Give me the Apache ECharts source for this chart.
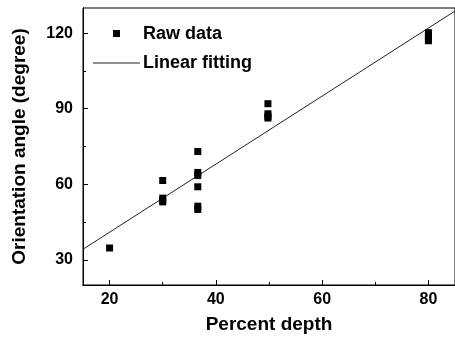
<!DOCTYPE html>
<html><head><meta charset="utf-8">
<script src="https://cdn.jsdelivr.net/npm/echarts@6/dist/echarts.min.js"></script>
<style>html,body{margin:0;padding:0;background:#fff}#c{width:455px;height:339px}</style>
</head><body><div id="c"></div>
<script>
const rawX = [20, 30, 30, 30, 30, 36.6, 36.6, 36.6, 36.6, 36.6, 36.6, 49.8, 49.8, 49.8, 49.8, 80, 80, 80, 80];
const rawY = [34.7, 61.5, 54.5, 53.5, 53, 73, 64.7, 63.5, 59, 51.3, 50, 92, 88, 87, 86.3, 120.2, 119, 118, 117];
const fitX = [15, 85];
const fitY = [34.2, 128.8];
const xLabels = [20, 40, 60, 80];
const xMinor = [30, 50, 70];
const yLabels = [30, 60, 90, 120];
const yMinor = [45, 75, 105];

const font = 'Liberation Sans, Arial, sans-serif';
const chart = echarts.init(document.getElementById('c'), null, {renderer: 'canvas'});
const axisCommon = {
  axisLine: {show: true, onZero: false, lineStyle: {color: '#000', width: 1}},
  splitLine: {show: false}
};
chart.setOption({
  animation: false,
  backgroundColor: '#fff',
  grid: {left: 83, right: -3, top: 8, bottom: 54, show: true, borderColor: '#000', borderWidth: 1, backgroundColor: 'transparent'},
  xAxis: [
    Object.assign({type: 'value', min: 15, max: 85, position: 'bottom',
      axisTick: {inside: true, length: 5, customValues: xLabels, lineStyle: {color: '#000'}},
      axisLabel: {customValues: xLabels, margin: 7, color: '#000', fontWeight: 'bold', fontSize: 16, fontFamily: font},
      name: 'Percent depth', nameLocation: 'middle', nameGap: 30,
      nameTextStyle: {color: '#000', fontWeight: 'bold', fontSize: 19, fontFamily: font}}, axisCommon),
    Object.assign({type: 'value', min: 15, max: 85, position: 'bottom',
      axisTick: {inside: true, length: 3, customValues: xMinor, lineStyle: {color: '#000'}},
      axisLabel: {show: false}}, axisCommon)
  ],
  yAxis: [
    Object.assign({type: 'value', min: 20, max: 130, position: 'left',
      axisTick: {inside: true, length: 5, customValues: yLabels, lineStyle: {color: '#000'}},
      axisLabel: {customValues: yLabels, margin: 10, color: '#000', fontWeight: 'bold', fontSize: 16, fontFamily: font},
      name: 'Orientation angle (degree)', nameLocation: 'middle', nameGap: 54,
      nameTextStyle: {color: '#000', fontWeight: 'bold', fontSize: 19, fontFamily: font}}, axisCommon),
    Object.assign({type: 'value', min: 20, max: 130, position: 'left',
      axisTick: {inside: true, length: 3, customValues: yMinor, lineStyle: {color: '#000'}},
      axisLabel: {show: false}}, axisCommon)
  ],
  graphic: [
    {type: 'rect', shape: {x: 113, y: 30, width: 7, height: 7}, style: {fill: '#000'}},
    {type: 'text', style: {x: 143, y: 34, text: 'Raw data', fill: '#000', font: 'bold 18px ' + font, verticalAlign: 'middle'}},
    {type: 'line', shape: {x1: 93, y1: 63, x2: 140, y2: 63}, style: {stroke: '#222', lineWidth: 1}},
    {type: 'text', style: {x: 143, y: 63, text: 'Linear fitting', fill: '#000', font: 'bold 18px ' + font, verticalAlign: 'middle'}}
  ],
  series: [
    {type: 'line', xAxisIndex: 0, yAxisIndex: 0, data: fitX.map((x, i) => [x, fitY[i]]), showSymbol: false,
      lineStyle: {color: '#222', width: 1}, z: 2},
    {type: 'scatter', xAxisIndex: 0, yAxisIndex: 0, data: rawX.map((x, i) => [x, rawY[i]]), symbol: 'rect', symbolSize: 7,
      itemStyle: {color: '#000', opacity: 1}, z: 3}
  ]
});
</script></body></html>
